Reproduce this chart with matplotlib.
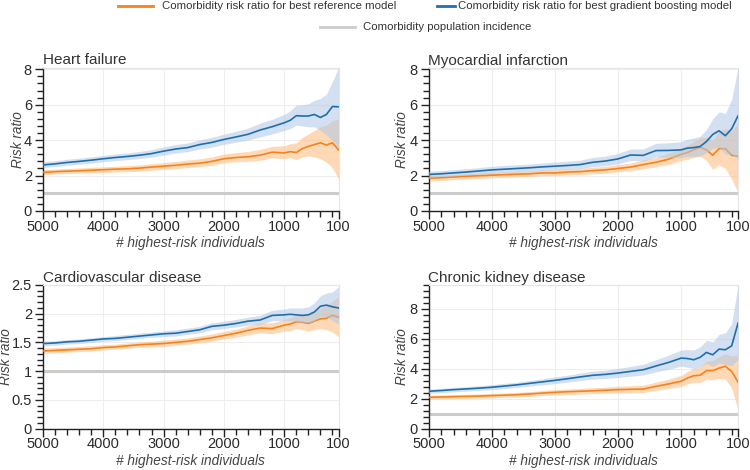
import matplotlib
matplotlib.use("Agg")
import matplotlib.pyplot as plt
from matplotlib.lines import Line2D
from matplotlib.ticker import MultipleLocator, FixedLocator

plt.rcParams['font.family'] = ['Liberation Sans', 'DejaVu Sans']

# x positions: number of highest-risk individuals
n_top = [5000, 4800, 4600, 4400, 4200, 4000, 3800, 3600, 3400, 3200, 3000, 2800, 2600, 2400, 2200,
         2000, 1800, 1600, 1400, 1200, 1000, 900, 800, 700, 600, 500, 400, 300, 200, 100]

# ---- Heart failure ----
hf_gb = [2.60, 2.66, 2.74, 2.80, 2.87, 2.95, 3.02, 3.08, 3.15, 3.24, 3.38, 3.50, 3.58, 3.75, 3.87,
         4.04, 4.18, 4.33, 4.57, 4.76, 4.98, 5.12, 5.38, 5.36, 5.36, 5.45, 5.28, 5.45, 5.90, 5.88]
hf_gb_lo = [2.45, 2.51, 2.58, 2.64, 2.70, 2.78, 2.84, 2.90, 2.96, 3.04, 3.16, 3.27, 3.35, 3.50, 3.60,
            3.76, 3.88, 4.00, 4.18, 4.35, 4.55, 4.65, 4.85, 4.80, 4.75, 4.75, 4.55, 4.30, 4.00, 3.55]
hf_gb_hi = [2.78, 2.84, 2.92, 2.98, 3.06, 3.14, 3.22, 3.28, 3.36, 3.46, 3.62, 3.75, 3.84, 4.02, 4.16,
            4.34, 4.50, 4.68, 4.96, 5.18, 5.45, 5.65, 5.98, 6.00, 6.05, 6.25, 6.35, 6.60, 7.30, 8.10]
hf_ref = [2.18, 2.22, 2.25, 2.27, 2.30, 2.33, 2.36, 2.38, 2.42, 2.48, 2.53, 2.58, 2.65, 2.70, 2.80,
          2.95, 3.02, 3.06, 3.15, 3.32, 3.28, 3.35, 3.30, 3.52, 3.65, 3.75, 3.85, 3.72, 3.85, 3.45]
hf_ref_lo = [2.05, 2.09, 2.11, 2.13, 2.15, 2.18, 2.20, 2.22, 2.25, 2.30, 2.35, 2.39, 2.45, 2.50, 2.58,
             2.72, 2.78, 2.80, 2.86, 3.00, 2.95, 3.00, 2.90, 3.05, 3.10, 3.05, 2.95, 2.75, 2.45, 1.80]
hf_ref_hi = [2.33, 2.37, 2.40, 2.43, 2.46, 2.50, 2.53, 2.56, 2.60, 2.67, 2.73, 2.80, 2.88, 2.94, 3.05,
             3.22, 3.30, 3.35, 3.48, 3.65, 3.68, 3.80, 3.85, 4.15, 4.35, 4.55, 4.75, 4.85, 5.10, 5.20]

# ---- Myocardial infarction ----
mi_gb = [2.06, 2.10, 2.15, 2.20, 2.26, 2.32, 2.36, 2.40, 2.44, 2.49, 2.53, 2.57, 2.62, 2.75, 2.82,
         2.94, 3.16, 3.14, 3.41, 3.42, 3.45, 3.55, 3.58, 3.64, 3.92, 4.32, 4.53, 4.25, 4.64, 5.37]
mi_gb_lo = [1.90, 1.94, 1.98, 2.03, 2.08, 2.13, 2.17, 2.20, 2.24, 2.28, 2.31, 2.35, 2.39, 2.50, 2.56,
            2.66, 2.85, 2.82, 3.04, 3.02, 3.02, 3.08, 3.08, 3.10, 3.30, 3.55, 3.60, 3.20, 3.20, 2.90]
mi_gb_hi = [2.24, 2.28, 2.33, 2.39, 2.45, 2.52, 2.57, 2.61, 2.65, 2.71, 2.76, 2.81, 2.87, 3.02, 3.10,
            3.25, 3.50, 3.50, 3.82, 3.85, 3.92, 4.05, 4.12, 4.22, 4.60, 5.20, 5.60, 5.50, 6.30, 8.10]
mi_ref = [1.85, 1.88, 1.92, 1.96, 1.99, 2.02, 2.05, 2.08, 2.10, 2.15, 2.15, 2.20, 2.22, 2.28, 2.32,
          2.40, 2.48, 2.62, 2.75, 2.92, 3.20, 3.30, 3.45, 3.60, 3.45, 3.15, 3.52, 3.52, 3.14, 3.10]
mi_ref_lo = [1.70, 1.73, 1.77, 1.81, 1.84, 1.87, 1.90, 1.93, 1.95, 1.99, 1.99, 2.03, 2.05, 2.10, 2.13,
             2.20, 2.27, 2.38, 2.50, 2.62, 2.85, 2.92, 3.02, 3.10, 2.85, 2.35, 2.60, 2.40, 1.80, 1.05]
mi_ref_hi = [2.00, 2.03, 2.07, 2.11, 2.14, 2.18, 2.21, 2.24, 2.26, 2.32, 2.32, 2.38, 2.40, 2.47, 2.52,
             2.62, 2.70, 2.88, 3.02, 3.25, 3.58, 3.72, 3.92, 4.15, 4.15, 4.00, 4.50, 4.65, 4.50, 5.00]

# ---- Cardiovascular disease ----
cvd_gb = [1.48, 1.49, 1.51, 1.52, 1.54, 1.56, 1.57, 1.59, 1.61, 1.63, 1.65, 1.66, 1.69, 1.72, 1.78,
          1.80, 1.83, 1.87, 1.89, 1.97, 1.98, 1.99, 1.98, 1.97, 1.98, 2.03, 2.13, 2.15, 2.12, 2.10]
cvd_gb_lo = [1.44, 1.45, 1.47, 1.48, 1.50, 1.52, 1.53, 1.55, 1.57, 1.59, 1.60, 1.61, 1.64, 1.67, 1.72,
             1.74, 1.77, 1.80, 1.81, 1.88, 1.88, 1.88, 1.86, 1.84, 1.84, 1.87, 1.95, 1.95, 1.88, 1.82]
cvd_gb_hi = [1.52, 1.53, 1.55, 1.56, 1.58, 1.60, 1.62, 1.64, 1.66, 1.68, 1.70, 1.72, 1.75, 1.78, 1.84,
             1.87, 1.90, 1.94, 1.97, 2.06, 2.08, 2.10, 2.10, 2.10, 2.12, 2.19, 2.31, 2.36, 2.38, 2.47]
cvd_ref = [1.35, 1.36, 1.37, 1.38, 1.39, 1.41, 1.42, 1.44, 1.46, 1.47, 1.48, 1.50, 1.52, 1.55, 1.58,
           1.62, 1.66, 1.71, 1.75, 1.74, 1.80, 1.82, 1.86, 1.85, 1.83, 1.87, 1.91, 1.92, 1.97, 1.94]
cvd_ref_lo = [1.31, 1.32, 1.33, 1.34, 1.35, 1.37, 1.38, 1.40, 1.41, 1.42, 1.43, 1.45, 1.47, 1.49, 1.52,
              1.56, 1.59, 1.63, 1.67, 1.65, 1.70, 1.71, 1.74, 1.72, 1.70, 1.72, 1.74, 1.72, 1.68, 1.60]
cvd_ref_hi = [1.40, 1.41, 1.42, 1.43, 1.44, 1.46, 1.47, 1.49, 1.51, 1.52, 1.54, 1.56, 1.58, 1.61, 1.65,
              1.69, 1.73, 1.79, 1.84, 1.84, 1.90, 1.93, 1.98, 1.98, 1.97, 2.03, 2.10, 2.14, 2.22, 2.30]

# ---- Chronic kidney disease ----
ckd_gb = [2.49, 2.54, 2.60, 2.65, 2.70, 2.76, 2.84, 2.92, 3.02, 3.12, 3.22, 3.33, 3.45, 3.56, 3.62,
          3.71, 3.82, 3.93, 4.18, 4.42, 4.71, 4.68, 4.60, 4.76, 5.09, 4.93, 5.31, 5.27, 5.53, 7.04]
ckd_gb_lo = [2.35, 2.40, 2.45, 2.50, 2.55, 2.60, 2.67, 2.75, 2.84, 2.92, 3.00, 3.10, 3.20, 3.30, 3.35,
             3.42, 3.50, 3.58, 3.78, 3.96, 4.18, 4.10, 4.00, 4.10, 4.35, 4.15, 4.40, 4.25, 4.20, 4.60]
ckd_gb_hi = [2.64, 2.69, 2.75, 2.80, 2.86, 2.93, 3.02, 3.10, 3.21, 3.32, 3.45, 3.57, 3.70, 3.83, 3.90,
             4.02, 4.15, 4.30, 4.60, 4.90, 5.25, 5.28, 5.25, 5.45, 5.90, 5.80, 6.30, 6.40, 7.00, 9.60]
ckd_ref = [2.09, 2.11, 2.13, 2.15, 2.17, 2.20, 2.23, 2.26, 2.31, 2.37, 2.42, 2.46, 2.49, 2.52, 2.56,
           2.60, 2.62, 2.64, 2.82, 2.98, 3.16, 3.38, 3.53, 3.56, 3.87, 3.87, 4.04, 4.16, 3.82, 3.11]
ckd_ref_lo = [1.95, 1.97, 1.99, 2.01, 2.03, 2.05, 2.08, 2.11, 2.15, 2.20, 2.25, 2.28, 2.30, 2.33, 2.36,
              2.38, 2.39, 2.40, 2.55, 2.68, 2.80, 2.98, 3.08, 3.08, 3.30, 3.25, 3.35, 3.30, 2.70, 1.25]
ckd_ref_hi = [2.22, 2.24, 2.27, 2.29, 2.31, 2.35, 2.38, 2.42, 2.47, 2.54, 2.60, 2.64, 2.68, 2.72, 2.77,
              2.83, 2.86, 2.90, 3.10, 3.30, 3.55, 3.82, 4.02, 4.10, 4.50, 4.55, 4.80, 5.00, 4.85, 4.95]

population_incidence = 1.0

x_ticks = [5000, 4000, 3000, 2000, 1000, 100]
x_minor = [4800, 4600, 4400, 4200, 3800, 3600, 3400, 3200, 2800, 2600, 2400, 2200,
           1800, 1600, 1400, 1200, 800, 600, 400, 200]

ORANGE = "#f5821f"
BLUE = "#1f6fad"
ORANGE_BAND = "#ffbb78"
BLUE_BAND = "#aec7e8"
GREY = "#cccccc"

W, H = 750, 470
fig = plt.figure(figsize=(W / 100, H / 100), dpi=100)


def panel(rect, title, ref, ref_lo, ref_hi, gb, gb_lo, gb_hi, ymax, ymajor, yminor,
          ylab_x, fmt=None):
    ax = fig.add_axes(rect)
    ax.plot([n_top[0], n_top[-1]], [population_incidence] * 2, color=GREY, lw=2.2, zorder=1)
    ax.fill_between(n_top, ref_lo, ref_hi, color=ORANGE_BAND, alpha=0.55, lw=0, zorder=2)
    ax.plot(n_top, ref, color=ORANGE, lw=1.2, zorder=3)
    ax.fill_between(n_top, gb_lo, gb_hi, color=BLUE_BAND, alpha=0.55, lw=0, zorder=4)
    ax.plot(n_top, gb, color=BLUE, lw=1.2, zorder=5)

    ax.set_xlim(5000, 100)
    ax.set_ylim(0, ymax)
    ax.xaxis.set_major_locator(FixedLocator(x_ticks))
    ax.xaxis.set_minor_locator(FixedLocator(x_minor))
    ax.yaxis.set_major_locator(MultipleLocator(ymajor))
    ax.yaxis.set_minor_locator(MultipleLocator(yminor))
    if fmt:
        ax.yaxis.set_major_formatter(fmt)

    ax.grid(True, which='major', color='#eeeeee', lw=0.8, zorder=0)
    ax.set_axisbelow(True)
    for s in ['top', 'right']:
        ax.spines[s].set_color('#e5e5e5')
        ax.spines[s].set_linewidth(0.8)
    for s in ['left', 'bottom']:
        ax.spines[s].set_color('#222222')
        ax.spines[s].set_linewidth(1.0)
    ax.tick_params(which='major', direction='out', length=6, width=1, color='#222222',
                   labelsize=10.5, labelcolor='#2a2a2a')
    ax.tick_params(axis='y', which='major', pad=2)
    ax.tick_params(axis='x', which='major', pad=0.2)
    ax.tick_params(which='minor', direction='out', length=4, width=1, color='#222222')

    ax.set_title(title, loc='left', fontsize=11, color='#333333', pad=1)
    ax.set_xlabel("# highest-risk individuals", fontsize=9.8, style='italic', color='#444444',
                  va='top')
    ax.xaxis.set_label_coords(0.5, -0.176)
    ax.set_ylabel("Risk ratio", fontsize=9.8, style='italic', color='#444444')
    ax.yaxis.set_label_coords(ylab_x, 0.5)
    return ax


def num_fmt(v, pos):
    return ("%g" % v)


top_h = 143.5 / H
panel([43 / W, 1 - 211 / H, 295.5 / W, top_h], "Heart failure",
      hf_ref, hf_ref_lo, hf_ref_hi, hf_gb, hf_gb_lo, hf_gb_hi, 8.1, 2, 0.4, -0.062)
panel([428.5 / W, 1 - 211 / H, 309.5 / W, top_h], "Myocardial infarction",
      mi_ref, mi_ref_lo, mi_ref_hi, mi_gb, mi_gb_lo, mi_gb_hi, 8.1, 2, 0.4, -0.063)
panel([43 / W, 1 - 428.5 / H, 295.5 / W, top_h], "Cardiovascular disease",
      cvd_ref, cvd_ref_lo, cvd_ref_hi, cvd_gb, cvd_gb_lo, cvd_gb_hi, 2.5, 0.5, 0.1, -0.102,
      plt.FuncFormatter(num_fmt))
panel([428.5 / W, 1 - 428.5 / H, 309.5 / W, top_h], "Chronic kidney disease",
      ckd_ref, ckd_ref_lo, ckd_ref_hi, ckd_gb, ckd_gb_lo, ckd_gb_hi, 9.6, 2, 0.4, -0.062)

# legend on top (x start, x end, y, text x, colour, label) in pixels
legend_items = [
    (118, 153, 6, 162, ORANGE, "Comorbidity risk ratio for best reference model"),
    (437, 455, 6, 458, BLUE, "Comorbidity risk ratio for best gradient boosting model"),
    (320, 355, 27, 363, GREY, "Comorbidity population incidence"),
]
for x0, x1, y0, tx, col, label in legend_items:
    fig.add_artist(Line2D([x0 / W, x1 / W], [1 - y0 / H] * 2, color=col, lw=2))
    fig.text(tx / W, 1 - y0 / H, label, fontsize=8.2, color='#333333', va='center')

fig.savefig("out.png", dpi=100)
